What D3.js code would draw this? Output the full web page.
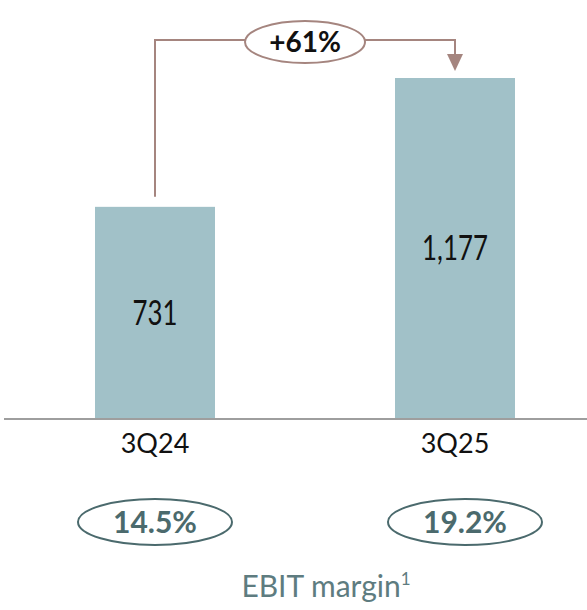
<!DOCTYPE html>
<html><head><meta charset="utf-8">
<script src="https://cdn.jsdelivr.net/npm/d3@7"></script>
<style>body{margin:0;background:#fff}svg{display:block}text{font-family:Lato,"Open Sans",sans-serif}</style>
</head><body>
<svg id="c" width="587" height="610"></svg>
<script>
const categories = ["3Q24", "3Q25"];
const values = [731, 1177];
const valueLabels = ["731", "1,177"];
const margins = ["14.5%", "19.2%"];
const growthLabel = "+61%";
const marginTitle = "EBIT margin";

const svg = d3.select("#c");
const baseY = 418;
const x = d3.scaleBand().domain(categories).range([5, 605]).paddingInner(0.6).paddingOuter(0.3);
const y = d3.scaleLinear().domain([0, 1177]).range([baseY, 78]);

// bars
svg.selectAll("rect.bar").data(values).enter().append("rect")
  .attr("class","bar")
  .attr("x",(d,i)=>x(categories[i]))
  .attr("width",x.bandwidth())
  .attr("y",d=>y(d))
  .attr("height",d=>baseY-y(d))
  .attr("fill","#a1c1c8");

// baseline
svg.append("line").attr("x1",4).attr("x2",587).attr("y1",baseY+1).attr("y2",baseY+1)
  .attr("stroke","#9e9e9e").attr("stroke-width",2);

// value labels
svg.selectAll("g.val").data(values).enter().append("g")
  .attr("transform",(d,i)=>`translate(${x(categories[i])+x.bandwidth()/2},${(y(d)+baseY)/2}) scale(0.76,1)`)
  .append("text")
  .attr("dy","0.36em").attr("text-anchor","middle")
  .attr("font-size",34).attr("fill","#111")
  .text((d,i)=>valueLabels[i]);

// category labels
svg.selectAll("text.cat").data(categories).enter().append("text")
  .attr("x",d=>x(d)+x.bandwidth()/2)
  .attr("y",443).attr("dy","0.36em").attr("text-anchor","middle")
  .attr("font-size",27).attr("fill","#111")
  .text(d=>d);

// growth connector
const cx0 = x(categories[0])+x.bandwidth()/2;
const cx1 = x(categories[1])+x.bandwidth()/2;
const lineY = 40;
const conn = "#a5857f";
svg.append("path")
  .attr("d",`M${cx0},${y(values[0])-10}V${lineY}H${cx1}V${56}`)
  .attr("fill","none").attr("stroke",conn).attr("stroke-width",2);
svg.append("path")
  .attr("d",`M${cx1-8},${54}L${cx1+8},${54}L${cx1},${71}Z`)
  .attr("fill",conn);
svg.append("ellipse").attr("cx",305).attr("cy",42).attr("rx",60).attr("ry",21)
  .attr("fill","#fff").attr("stroke",conn).attr("stroke-width",2);
svg.append("text").attr("x",305).attr("y",42).attr("dy","0.36em").attr("text-anchor","middle")
  .attr("font-size",28).attr("font-weight","bold").attr("fill","#111").text(growthLabel);

// margin ellipses
const mx = [155, 465];
const teal = "#4b6a6d";
margins.forEach((m,i)=>{
  svg.append("ellipse").attr("cx",mx[i]).attr("cy",522).attr("rx",77).attr("ry",23)
    .attr("fill","none").attr("stroke",teal).attr("stroke-width",2);
  svg.append("text").attr("x",mx[i]).attr("y",522).attr("dy","0.36em").attr("text-anchor","middle")
    .attr("font-size",30).attr("font-weight","bold").attr("fill",teal).text(m);
});

const t = svg.append("text").attr("x",326).attr("y",597).attr("text-anchor","middle")
  .attr("font-size",30).attr("fill","#5e7c80");
t.append("tspan").text(marginTitle);
t.append("tspan").attr("font-size",17).attr("dy",-12).text("1");
</script>
</body></html>
